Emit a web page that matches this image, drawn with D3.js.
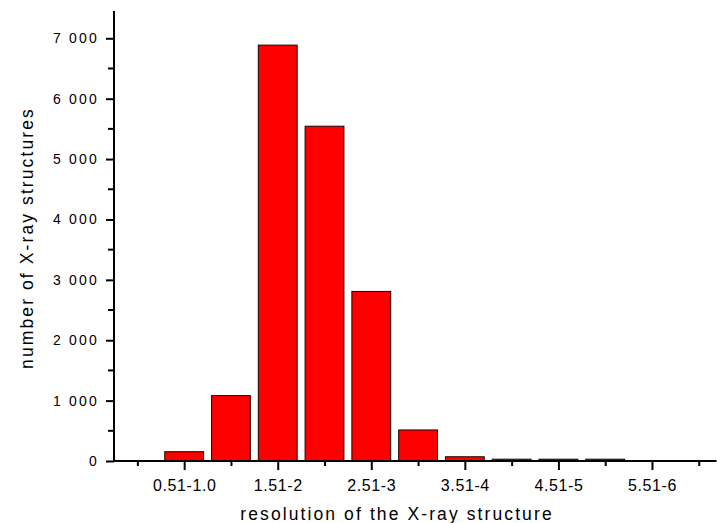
<!DOCTYPE html>
<html>
<head>
<meta charset="utf-8">
<script src="https://cdn.jsdelivr.net/npm/d3@7"></script>
<style>
    html, body { margin: 0; padding: 0; background: #ffffff; }
    text { font-family: "Liberation Sans", Arial, sans-serif; fill: #000000; }
</style>
</head>
<body>
<div id="chart"></div>
<script>

/* Data -------------------------------------------------------------------- */

const categories = ["0-0.5", "0.51-1.0", "1.01-1.5", "1.51-2", "2.01-2.5",
    "2.51-3", "3.01-3.5", "3.51-4", "4.01-4.5", "4.51-5", "5.01-5.5",
    "5.51-6", ">6"];
const counts = [0, 154, 1083, 6887, 5544, 2808, 514, 70, 30, 30, 30, 3, 1];
const shownLabels = ["0.51-1.0", "1.51-2", "2.51-3", "3.51-4", "4.51-5", "5.51-6"];
const yTicks = [0, 1000, 2000, 3000, 4000, 5000, 6000, 7000];
const yMinorTicks = [500, 1500, 2500, 3500, 4500, 5500, 6500];

/* Settings ---------------------------------------------------------------- */

const settings = {
    width: 717,
    height: 523,
    axisLeft: 114,
    axisBottom: 461,
    axisTop: 11,
    axisRight: 716,
    slot: 46.78,
    barRatio: 0.83,
    yMax: 7452,
    barFill: "#ff0000"
};

/* Draw graphic ------------------------------------------------------------ */

function drawGraphic() {

    const data = categories.map((c, i) => ({key: c, index: i, value: counts[i]}));

    // Index scale: slot 0 is centered half a slot from the y axis
    const xScale = d3.scaleLinear()
        .domain([-0.5, 0.5])
        .range([settings.axisLeft, settings.axisLeft + settings.slot]);

    const yScale = d3.scaleLinear()
        .domain([0, settings.yMax])
        .range([settings.axisBottom, settings.axisTop]);

    const svg = d3.select("#chart")
        .append("svg")
        .attr("width", settings.width)
        .attr("height", settings.height);

    svg.append("rect")
        .attr("width", settings.width)
        .attr("height", settings.height)
        .attr("fill", "#ffffff");

    // Bars
    const barWidth = settings.slot * settings.barRatio;
    svg.selectAll(".bar")
        .data(data.filter(d => d.value > 0))
        .enter()
        .append("rect")
        .attr("class", "bar")
        .attr("x", d => xScale(d.index) - barWidth / 2)
        .attr("y", d => yScale(d.value))
        .attr("width", barWidth)
        .attr("height", d => yScale(0) - yScale(d.value))
        .attr("fill", settings.barFill)
        .attr("stroke", "#1a0000")
        .attr("stroke-width", 1);

    // X axis: ticks at every slot, labels every other slot
    const xAxis = d3.axisBottom(xScale)
        .tickValues(d3.range(categories.length))
        .tickSize(5)
        .tickPadding(16)
        .tickFormat(i => shownLabels.includes(categories[i]) ? categories[i] : "");

    const gx = svg.append("g")
        .attr("class", "xaxis")
        .attr("transform", `translate(0,${settings.axisBottom})`)
        .call(xAxis);

    gx.select(".domain").remove();
    gx.selectAll("line")
        .attr("stroke", "#000")
        .attr("stroke-width", 2)
        .attr("y2", i => shownLabels.includes(categories[i]) ? 9 : 5);
    gx.selectAll("text")
        .attr("y", 30)
        .attr("dy", 0)
        .style("font-size", "16px")
        .style("letter-spacing", "0.6px")
        .style("font-family", "'Liberation Sans', Arial, sans-serif");

    gx.append("line")
        .attr("x1", settings.axisLeft - 1)
        .attr("x2", settings.axisRight)
        .attr("stroke", "#000")
        .attr("stroke-width", 2);

    // Y axis
    const yAxis = d3.axisLeft(yScale)
        .tickValues(yTicks)
        .tickSize(8)
        .tickPadding(7)
        .tickFormat(d => d3.format(",")(d).replace(",", " "));

    const gy = svg.append("g")
        .attr("class", "yaxis")
        .attr("transform", `translate(${settings.axisLeft},0)`)
        .call(yAxis);

    gy.select(".domain").remove();
    gy.selectAll("line")
        .attr("stroke", "#000")
        .attr("stroke-width", 2);
    gy.selectAll("text")
        .style("font-size", "14px")
        .style("letter-spacing", "2.2px")
        .style("font-family", "'Liberation Sans', Arial, sans-serif");

    gy.selectAll(".minor")
        .data(yMinorTicks)
        .enter()
        .append("line")
        .attr("class", "minor")
        .attr("x1", -6)
        .attr("x2", 0)
        .attr("y1", d => yScale(d))
        .attr("y2", d => yScale(d))
        .attr("stroke", "#000")
        .attr("stroke-width", 2);

    gy.append("line")
        .attr("y1", settings.axisTop)
        .attr("y2", settings.axisBottom + 1)
        .attr("stroke", "#000")
        .attr("stroke-width", 2);

    // Axis titles
    svg.append("text")
        .attr("x", 397)
        .attr("y", 520)
        .attr("text-anchor", "middle")
        .style("font-size", "17.5px")
        .style("letter-spacing", "2.1px")
        .text("resolution of the X-ray structure");

    svg.append("text")
        .attr("transform", "translate(33,238) rotate(-90)")
        .attr("text-anchor", "middle")
        .style("font-size", "17.5px")
        .style("letter-spacing", "2.1px")
        .text("number of X-ray structures");
}

drawGraphic();
</script>
</body>
</html>
